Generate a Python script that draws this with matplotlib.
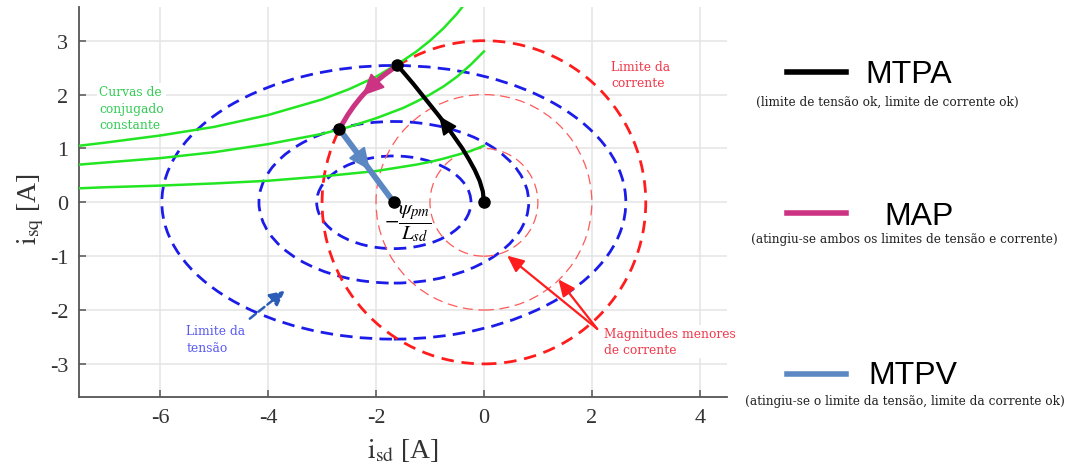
import numpy as np
import matplotlib
matplotlib.use("Agg")
import matplotlib.pyplot as plt
from matplotlib.patches import Ellipse, Circle, Arc


##### DADOS #####

# centro das elipses de tensao: -psi_pm / L_sd
psi_over_L = 1.67
ellipse_a = [1.43, 2.50, 4.30]      # semi-eixo em i_sd
ellipse_b = [0.86, 1.50, 2.54]      # semi-eixo em i_sq
current_radii = [1.0, 2.0, 3.0]     # o ultimo e o limite da corrente

# curvas de conjugado constante (i_sd, i_sq)
torque_id = [-7.5, -7.0, -6.0, -5.0, -4.0, -3.0, -2.5, -2.0, -1.5, -1.25, -1.0,
             -0.75, -0.5, -0.25, 0.0]
torque_iq_low = [0.26, 0.28, 0.31, 0.35, 0.40, 0.48, 0.53, 0.58, 0.66, 0.70, 0.75,
                 0.81, 0.88, 0.95, 1.05]
torque_iq_mid = [0.70, 0.74, 0.82, 0.93, 1.08, 1.27, 1.40, 1.56, 1.75, 1.87, 2.00,
                 2.15, 2.33, 2.55, 2.80]
torque_iq_high = [1.05, 1.11, 1.24, 1.40, 1.62, 1.91, 2.10, 2.33, 2.63, 2.80, 3.00,
                  3.23, 3.50, 3.82, 4.20]

# trajetoria MTPA, da origem ate o limite de corrente
mtpa_id = [0.0, -0.02, -0.08, -0.17, -0.28, -0.40, -0.54, -0.68, -0.83, -0.99, -1.15, -1.31, -1.48, -1.61]
mtpa_iq = [0.0, 0.20, 0.40, 0.60, 0.80, 1.00, 1.20, 1.40, 1.60, 1.80, 2.00, 2.20, 2.40, 2.55]

# trajetoria MTPV, do fim do MAP ate o centro das elipses
mtpv_id = [-2.68, -psi_over_L]
mtpv_iq = [1.36, 0.0]

legend_names = ["MTPA", "MAP", "MTPV"]
legend_notes = ["(limite de tensão ok, limite de corrente ok)",
                "(atingiu-se ambos os limites de tensão e corrente)",
                "(atingiu-se o limite da tensão, limite da corrente ok)"]

c_blue = "#1c1ce8"
c_red = "#ff1c1c"
c_red_thin = "#ff5a5a"
c_green = "#22e622"
c_map = "#cc3382"
c_mtpv = "#5b88c2"
legend_colors = ["black", c_map, c_mtpv]

plt.rcParams["font.family"] = ["Liberation Serif", "DejaVu Serif"]
plt.rcParams["mathtext.fontset"] = "stix"
plt.rcParams["axes.unicode_minus"] = False

W, H = 1072, 477
fig = plt.figure(figsize=(W / 100, H / 100), dpi=100)
ax = fig.add_axes([79.3 / W, 78.7 / H, 647.4 / W, 390 / H])
ax.set_xlim(-7.5, 4.5)
ax.set_ylim(-3.62, 3.62)
ax.set_xticks([-6, -4, -2, 0, 2, 4])
ax.set_yticks([-3, -2, -1, 0, 1, 2, 3])
ax.grid(True, color="#e4e4e4", lw=1.1)
ax.set_axisbelow(True)
for s in ["top", "right"]:
    ax.spines[s].set_visible(False)
for s in ["left", "bottom"]:
    ax.spines[s].set_color("#555555")
    ax.spines[s].set_linewidth(1.3)
ax.tick_params(direction="in", length=5, width=1.1, color="#555555",
               labelsize=16, labelcolor="#333333", pad=8)

ax.set_xlabel(r"$\mathrm{i}_{\mathrm{sd}}$ [A]", fontsize=20, color="#333333")
ax.set_ylabel(r"$\mathrm{i}_{\mathrm{sq}}$ [A]", fontsize=20, color="#333333")
ax.xaxis.set_label_coords(0.5, -0.1)
ax.yaxis.set_label_coords(-0.052, 0.485)
ax.xaxis.label.set_va("top")

# elipses do limite de tensao
for a, b in zip(ellipse_a, ellipse_b):
    ax.add_patch(Ellipse((-psi_over_L, 0), 2 * a, 2 * b, fill=False, ec=c_blue,
                         lw=2.0, ls=(0, (4.5, 2.6)), zorder=2))

# circulos de corrente
for r in current_radii:
    if r == current_radii[-1]:
        ax.add_patch(Circle((0, 0), r, fill=False, ec=c_red, lw=2.0,
                            ls=(0, (4.5, 2.8)), zorder=2))
    else:
        ax.add_patch(Circle((0, 0), r, fill=False, ec=c_red_thin, lw=0.9,
                            ls=(0, (8, 4.5)), zorder=2))

for iq in [torque_iq_low, torque_iq_mid, torque_iq_high]:
    ax.plot(torque_id, iq, color=c_green, lw=1.8, zorder=3)

# MTPA
ax.plot(mtpa_id, mtpa_iq, color="black", lw=3, zorder=4, solid_capstyle="round")

# MAP: arco sobre o limite de corrente
r_lim = current_radii[-1]
th1 = np.degrees(np.arctan2(mtpa_iq[-1], mtpa_id[-1]))
th2 = np.degrees(np.arctan2(mtpv_iq[0], mtpv_id[0]))
ax.add_patch(Arc((0, 0), 2 * r_lim, 2 * r_lim, theta1=th1, theta2=th2,
                 color=c_map, lw=3.6, zorder=4))

# MTPV
ax.plot(mtpv_id, mtpv_iq, color=c_mtpv, lw=4.2, zorder=4)


def head(ax, tail, tip, color, hl=1.1, hw=0.5):
    ax.annotate("", xy=tip, xytext=tail, zorder=6,
                arrowprops=dict(arrowstyle=f"-|>,head_length={hl},head_width={hw}",
                                color=color, lw=1.5, shrinkA=0, shrinkB=0))


head(ax, (mtpa_id[6], mtpa_iq[6]), (mtpa_id[8], mtpa_iq[8]), "black")
tm1, tm2 = np.radians(th1 + 8), np.radians(th1 + 16.5)
head(ax, (r_lim * np.cos(tm1), r_lim * np.sin(tm1)),
     (r_lim * np.cos(tm2), r_lim * np.sin(tm2)), c_map, hl=1.35, hw=0.62)
p0 = np.array([mtpv_id[0], mtpv_iq[0]])
p1 = np.array([mtpv_id[1], mtpv_iq[1]])
head(ax, p0 + 0.3 * (p1 - p0), p0 + 0.56 * (p1 - p0), c_mtpv, hl=1.35, hw=0.62)

# pontos de operacao
ax.plot([0, mtpa_id[-1], mtpv_id[0], mtpv_id[1]], [0, mtpa_iq[-1], mtpv_iq[0], mtpv_iq[1]],
        "o", color="black", ms=8, zorder=7)

ax.text(-1.42, -0.37, r"$-\dfrac{\psi_{pm}}{L_{sd}}$", fontsize=15, ha="center",
        va="center", zorder=8)

box = dict(fc="white", ec="none", pad=1.5)
note_font = dict(family="DejaVu Serif", fontsize=8.8, linespacing=1.35, zorder=1)
ax.text(-7.13, 2.17, "Curvas de\nconjugado\nconstante", color="#33cc55", va="top",
        ha="left", bbox=box, **note_font)
ax.text(2.36, 2.65, "Limite da\ncorrente", color="#f0384a", va="top", ha="left",
        bbox=box, **note_font)
ax.text(-5.52, -2.26, "Limite da\ntensão", color="#5a5af0", va="top", ha="left",
        bbox=box, **note_font)
ax.text(2.22, -2.31, "Magnitudes menores\nde corrente", color="#f0384a", va="top",
        ha="left", bbox=box, **note_font)

ax.annotate("", xy=(-3.69, -1.64), xytext=(-4.34, -2.16), zorder=6,
            arrowprops=dict(arrowstyle="-|>,head_length=0.9,head_width=0.45",
                            color="#2a5cb8", lw=1.8, ls=(0, (3, 1.5)),
                            shrinkA=0, shrinkB=0))
for tip in [(0.43, -0.99), (1.38, -1.43)]:
    ax.annotate("", xy=tip, xytext=(2.1, -2.35), zorder=6,
                arrowprops=dict(arrowstyle="-|>,head_length=1.0,head_width=0.45",
                                color=c_red, lw=1.6, shrinkA=0, shrinkB=0))

# legenda desenhada a direita, em coordenadas de pixel
lax = fig.add_axes([0, 0, 1, 1], zorder=-1)
lax.set_xlim(0, W)
lax.set_ylim(H, 0)
lax.axis("off")
line_y = [73, 214, 375]
name_x = [865, 884, 868]
name_base = [83, 225, 384]
note_x = [756, 751, 745]
note_base = [106, 243, 405]
for i in range(3):
    lax.plot([787, 846], [line_y[i], line_y[i]], color=legend_colors[i], lw=4)
    lax.text(name_x[i], name_base[i], legend_names[i], family="Liberation Sans",
             fontsize=23, va="baseline", ha="left")
    lax.text(note_x[i], note_base[i], legend_notes[i], family="DejaVu Serif",
             fontsize=8.75, va="baseline", ha="left", color="#222222")

fig.savefig("out.png", dpi=100)
